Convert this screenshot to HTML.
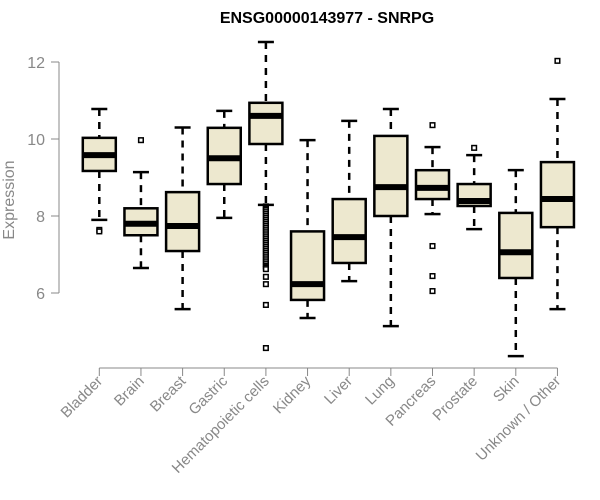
<!DOCTYPE html>
<html><head><meta charset="utf-8"><style>
body{margin:0;background:#fff;}
svg{display:block;font-family:"Liberation Sans",Arial,sans-serif;}
</style></head><body>
<svg id="chart" width="600" height="500">
<text x="327" y="23" text-anchor="middle" font-weight="bold" font-size="16">ENSG00000143977 - SNRPG</text>
<text transform="translate(14,200) rotate(-90)" text-anchor="middle" font-size="16" fill="#888">Expression</text>
</svg>
<script>
const categories=["Bladder","Brain","Breast","Gastric","Hematopoietic cells","Kidney","Liver","Lung","Pancreas","Prostate","Skin","Unknown / Other"];
const whiskerLow=[7.9,6.65,5.58,7.95,8.29,5.35,6.31,5.14,8.05,7.66,4.36,5.58];
const q1=[9.17,7.5,7.09,8.83,9.87,5.82,6.78,8.0,8.44,8.26,6.39,7.71];
const medians=[9.58,7.8,7.74,9.5,10.6,6.23,7.45,8.75,8.73,8.39,7.06,8.44];
const q3=[10.03,8.2,8.62,10.29,10.94,7.6,8.44,10.08,9.19,8.83,8.08,9.4];
const whiskerHigh=[10.78,9.14,10.3,10.73,12.52,9.97,10.47,10.78,9.79,9.58,9.19,11.04];
const outliers=[[7.64,7.6],[9.97],[],[],[8.25,8.22,8.18,8.15,8.1,8.05,8.0,7.95,7.9,7.85,7.8,7.75,7.7,7.65,7.6,7.55,7.5,7.45,7.4,7.35,7.3,7.25,7.2,7.15,7.1,7.05,7.0,6.95,6.9,6.85,6.8,6.75,6.7,6.66,6.62,6.42,6.23,5.69,4.57],[],[],[],[10.36,7.22,6.44,6.05],[9.77],[],[12.03]];
const yTicks=[6,8,10,12];

const svg=document.getElementById('chart');
const NS='http://www.w3.org/2000/svg';
const y=v=>293-(v-6)*38.5;
const x=i=>99.3+i*41.65;
function mk(t,a,p){const e=document.createElementNS(NS,t);for(const k in a)e.setAttribute(k,a[k]);(p||svg).appendChild(e);return e;}
const ya=mk('g',{});


mk('line',{x1:59,x2:59,y1:y(12),y2:y(6),stroke:'#888'},ya);
yTicks.forEach(t=>{
  mk('line',{x1:51,x2:59,y1:y(t),y2:y(t),stroke:'#888'},ya);
  const tx=mk('text',{x:45,y:y(t)+6,'text-anchor':'end','font-size':16,fill:'#888'},ya);
  tx.textContent=t;
  
  
});
const xa=mk('g',{});


mk('line',{x1:x(0),x2:x(categories.length-1),y1:368,y2:368,stroke:'#888'},xa);
categories.forEach((c,i)=>{
  mk('line',{x1:x(i),x2:x(i),y1:368,y2:376,stroke:'#888'},xa);
  const tx=mk('text',{transform:`translate(${x(i)+4},382) rotate(-45)`,'text-anchor':'end','font-size':15,fill:'#888'},xa);
  tx.textContent=c;
  
  
});
categories.forEach((c,i)=>{
  const g=mk('g',{});
  
  
  const cx=x(i),hw=16.5;
  mk('line',{x1:cx,x2:cx,y1:y(whiskerHigh[i]),y2:y(q3[i]),stroke:'#000','stroke-width':2.5,'stroke-dasharray':'7,6'},g);
  mk('line',{x1:cx,x2:cx,y1:y(q1[i]),y2:y(whiskerLow[i]),stroke:'#000','stroke-width':2.5,'stroke-dasharray':'7,6'},g);
  mk('line',{x1:cx-8,x2:cx+8,y1:y(whiskerHigh[i]),y2:y(whiskerHigh[i]),stroke:'#000','stroke-width':2.5},g);
  mk('line',{x1:cx-8,x2:cx+8,y1:y(whiskerLow[i]),y2:y(whiskerLow[i]),stroke:'#000','stroke-width':2.5},g);
  mk('rect',{x:cx-hw,y:y(q3[i]),width:hw*2,height:y(q1[i])-y(q3[i]),fill:'#ede8cf',stroke:'#000','stroke-width':2.5},g);
  mk('line',{x1:cx-hw,x2:cx+hw,y1:y(medians[i]),y2:y(medians[i]),stroke:'#000','stroke-width':6},g);
  outliers[i].forEach(o=>{
    const p=mk('rect',{x:cx-2.3,y:y(o)-2.3,width:4.6,height:4.6,fill:'#fff',stroke:'#000','stroke-width':1.5},g);
    
    
  });
});
</script>
</body></html>
